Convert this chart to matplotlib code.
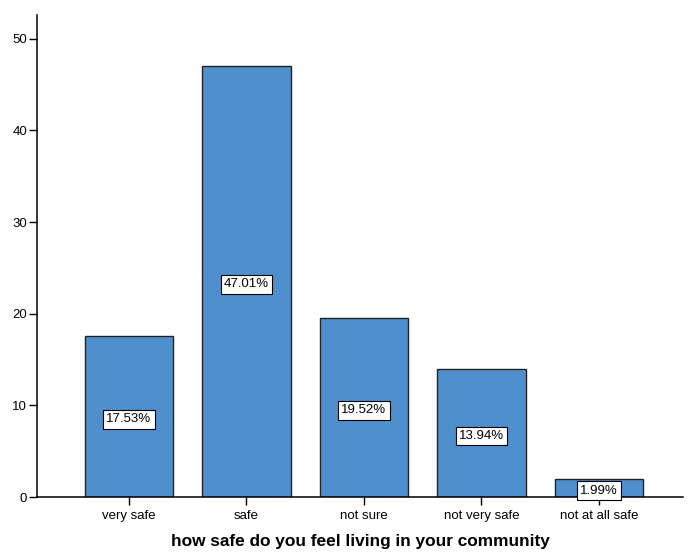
import numpy as np
import matplotlib
matplotlib.use("Agg")
import matplotlib.pyplot as plt

plt.rcParams['font.family'] = ['Liberation Sans', 'DejaVu Sans']

categories = ['very safe', 'safe', 'not sure', 'not very safe', 'not at all safe']
percents = [17.53, 47.01, 19.52, 13.94, 1.99]
yticks = [0, 10, 20, 30, 40, 50]

fig = plt.figure(figsize=(6.89, 5.52), dpi=100)
ax = fig.add_axes([0.0537, 0.0996, 0.9375, 0.8732])

x = np.arange(len(categories))
ax.bar(x, percents, width=0.75, color='#4f8fce', edgecolor='#222222', linewidth=1.0)

for xi, p in zip(x, percents):
    ax.text(xi, p / 2 - 0.3, f'{p:.2f}%', ha='center', va='center', fontsize=9.5,
            bbox=dict(boxstyle='square,pad=0.25', facecolor='white', edgecolor='black', linewidth=0.8))

ax.set_xlim(-0.783, 4.715)
ax.set_ylim(0, 52.6)
ax.set_yticks(yticks)
ax.set_xticks(x)
ax.set_xticklabels(categories)
ax.tick_params(axis='both', labelsize=9.5, length=6, width=1, colors='black', direction='out')
ax.tick_params(axis='y', pad=1)
ax.tick_params(axis='x', pad=3)
ax.spines['top'].set_visible(False)
ax.spines['right'].set_visible(False)
ax.spines['left'].set_linewidth(1.1)
ax.spines['bottom'].set_linewidth(1.1)
ax.set_xlabel('how safe do you feel living in your community', fontsize=12.4, fontweight='bold', labelpad=9)

fig.savefig('out.png', dpi=100)
